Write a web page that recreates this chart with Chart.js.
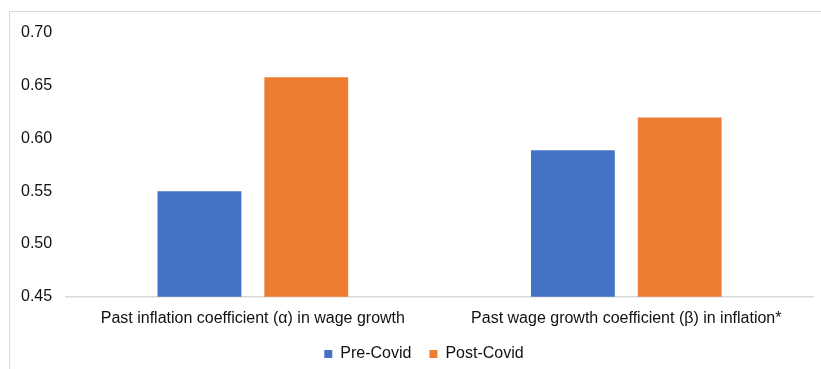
<!DOCTYPE html>
<html>
<head>
<meta charset="utf-8">
<script src="https://cdn.jsdelivr.net/npm/chart.js@4/dist/chart.umd.min.js"></script>
<style>
  html, body { margin: 0; padding: 0; background: #fff; }
  #wrap { position: relative; width: 821px; height: 369px; overflow: hidden; }
  #frame { position: absolute; left: 9px; top: 11px; width: 900px; height: 500px;
           border: 1.5px solid #d9d9d9; box-sizing: border-box; }
  canvas { position: absolute; left: 0; top: 0; }
</style>
</head>
<body>
<div id="wrap">
  <div id="frame"></div>
  <canvas id="coefChart" width="821" height="369"></canvas>
</div>
<script>
const categories = [
  'Past inflation coefficient (\u03b1) in wage growth',
  'Past wage growth coefficient (\u03b2) in inflation*'
];
const preCovid = [0.55, 0.589];
const postCovid = [0.658, 0.62];
const yTicks = [0.45, 0.50, 0.55, 0.60, 0.65, 0.70];

const font = { family: 'Arial, "Liberation Sans", sans-serif', size: 16 };

// legend padding also spaces the items apart, so pull the row back up afterwards
// and centre it under the plot area rather than the whole canvas
const legendNudge = {
  id: 'legendNudge',
  afterLayout(chart) {
    const lg = chart.legend;
    if (!lg) return;
    lg.top -= 12;
    lg.left += 7;
    lg.right += 7;
  }
};

const ctx = document.getElementById('coefChart').getContext('2d');
new Chart(ctx, {
  type: 'bar',
  data: {
    labels: categories,
    datasets: [
      { label: 'Pre-Covid', data: preCovid, backgroundColor: '#4472C4' },
      { label: 'Post-Covid', data: postCovid, backgroundColor: '#ED7D31' }
    ]
  },
  options: {
    responsive: false,
    animation: false,
    categoryPercentage: 0.572,
    barPercentage: 0.785,
    layout: { padding: { left: 21, right: 8, top: 33, bottom: -3 } },
    scales: {
      x: {
        grid: { display: false, drawTicks: false },
        border: { color: '#d9d9d9', width: 1.5 },
        ticks: { color: '#111', font: font, padding: 12, maxRotation: 0 }
      },
      y: {
        min: 0.45,
        max: 0.70,
        afterBuildTicks: axis => { axis.ticks = yTicks.map(v => ({ value: v })); },
        grid: { display: false, drawTicks: false },
        border: { display: false },
        ticks: {
          color: '#111',
          font: font,
          padding: 7,
          crossAlign: 'far',
          callback: v => v.toFixed(2)
        }
      }
    },
    plugins: {
      legend: {
        position: 'bottom',
        maxHeight: 32,
        labels: { boxWidth: 8, boxHeight: 8, color: '#111', font: font, padding: 18 }
      },
      tooltip: { enabled: false }
    }
  },
  plugins: [legendNudge]
});
</script>
</body>
</html>
